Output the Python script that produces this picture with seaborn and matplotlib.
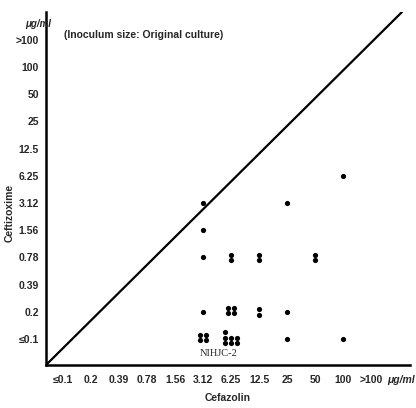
import numpy as np
import pandas as pd
import matplotlib
matplotlib.use("Agg")
import matplotlib.pyplot as plt
import seaborn as sns

sns.set_style("white")
plt.rcParams['font.family'] = ['Liberation Sans', 'DejaVu Sans']

# Category labels (ordinal MIC scale)
x_labels = ["≤0.1", "0.2", "0.39", "0.78", "1.56", "3.12", "6.25", "12.5", "25", "50", "100", ">100"]
y_labels = ["≤0.1", "0.2", "0.39", "0.78", "1.56", "3.12", "6.25", "12.5", "25", "50", "100", ">100"]

# Strain MIC points: cefazolin MIC, ceftizoxime MIC, number of strains
pt_x = ["3.12", "3.12", "3.12", "3.12", "3.12",
        "6.25", "6.25", "6.25",
        "12.5", "12.5",
        "25", "25", "25",
        "50",
        "100", "100"]
pt_y = ["3.12", "1.56", "0.78", "0.2", "≤0.1",
        "0.78", "0.2", "≤0.1",
        "0.78", "0.2",
        "3.12", "0.2", "≤0.1",
        "0.78",
        "6.25", "≤0.1"]
pt_n = [1, 1, 1, 1, 4,
        2, 4, 7,
        2, 2,
        1, 1, 1,
        2,
        1, 1]

# cluster layout for stacked strains (offsets in category units)
dx, dy = 0.2, 0.2
layouts = {
    1: [(0, 0)],
    2: [(0, dy / 2), (0, -dy / 2)],
    4: [(-dx / 2, dy / 2 + 0.05), (dx / 2, dy / 2 + 0.05), (-dx / 2, -dy / 2 + 0.05), (dx / 2, -dy / 2 + 0.05)],
    7: [(-dx, dy * 1.2), (-dx, 0.05), (0, 0.05), (dx, 0.05), (-dx, -dy * 0.8), (0, -dy * 0.8), (dx, -dy * 0.8)],
}

rows = []
for xc, yc, n in zip(pt_x, pt_y, pt_n):
    xi = x_labels.index(xc) + 1
    yi = y_labels.index(yc) + 1
    for ox, oy in layouts[n]:
        rows.append({"x": xi + ox, "y": yi + oy})
df = pd.DataFrame(rows)

fig = plt.figure(figsize=(4.16, 4.08), dpi=100)
ax = fig.add_axes([46 / 416, 43 / 408, (410 - 46) / 416, (365 - 12) / 408])

sns.scatterplot(data=df, x="x", y="y", ax=ax, color="black", s=14,
                edgecolor="black", linewidth=0, legend=False, zorder=3)

ax.set_xlim(0.39, 13.39)
ax.set_ylim(0.044, 13.02)
# diagonal equality line from the axes corner
ax.plot([0, 356 / 364], [0, 1], transform=ax.transAxes, color="black", lw=1.6, zorder=2)

fs = 7.5
ax.set_xticks(range(1, 13))
ax.set_xticklabels(x_labels, fontsize=fs, fontweight="bold")
ax.set_yticks(range(1, 13))
ax.set_yticklabels(y_labels, fontsize=fs, fontweight="bold")
ax.tick_params(axis="x", direction="in", length=3, width=1, pad=7)
ax.tick_params(axis="y", direction="out", length=3, width=1, pad=2)
for s in ["top", "right"]:
    ax.spines[s].set_visible(False)
for s in ["left", "bottom"]:
    ax.spines[s].set_linewidth(1.8)
    ax.spines[s].set_color("black")

ax.set_xlabel("Cefazolin", fontsize=fs, fontweight="bold", labelpad=6)
ax.set_ylabel("Ceftizoxime", fontsize=fs, fontweight="bold")
ax.yaxis.set_label_coords(-0.085, 0.43)

ax.text(0.05, 0.935, "(Inoculum size: Original culture)", transform=ax.transAxes,
        fontsize=fs, fontweight="bold", ha="left", va="center")
ax.text(-0.022, 0.965, "μg/ml", transform=ax.transAxes, fontsize=7, fontweight="bold",
        ha="center", va="center", style="italic")
fig.text(415 / 416, (408 - 380) / 408, "μg/ml", fontsize=fs, fontweight="bold",
         ha="right", va="center", style="italic")
ax.text(6.55, 0.48, "NIHJC-2", fontsize=fs, ha="center", va="center",
        family=["Liberation Serif", "DejaVu Serif"])

fig.savefig("out.png", dpi=100)
